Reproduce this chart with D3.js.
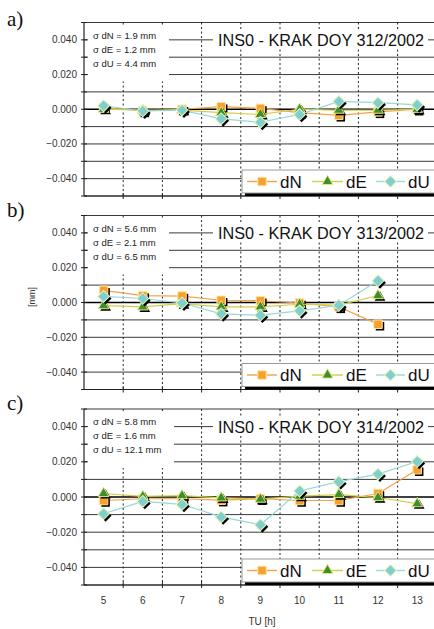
<!DOCTYPE html>
<html>
<head>
<meta charset="utf-8">
<script src="https://cdn.jsdelivr.net/npm/d3@7"></script>
<style>
  html, body { margin: 0; padding: 0; background: #fff; }
  svg { display: block; }
</style>
</head>
<body>
<svg id="chart" width="434" height="629"></svg>
<script>
// Hours (TU) along the category axis
const hours = [5, 6, 7, 8, 9, 10, 11, 12, 13];
const yTicks = [-0.04, -0.02, 0, 0.02, 0.04];
const yGrid = [-0.05, -0.04, -0.03, -0.02, -0.01, 0, 0.01, 0.02, 0.03, 0.04, 0.05];

const panelLetters = ["a)", "b)", "c)"];
const titles = ["INS0 - KRAK DOY 312/2002", "INS0 - KRAK DOY 313/2002", "INS0 - KRAK DOY 314/2002"];
const sigmaN = ["1.9", "5.6", "5.8"];
const sigmaE = ["1.2", "2.1", "1.6"];
const sigmaU = ["4.4", "6.5", "12.1"];

// Day 312
const dN312 = [0.001, -0.001, 0.000, 0.0015, 0.0005, -0.002, -0.0035, -0.0015, 0.000];
const dE312 = [0.000, -0.0005, -0.0005, -0.002, -0.003, 0.000, -0.0005, -0.0005, 0.000];
const dU312 = [0.002, -0.001, -0.0005, -0.0055, -0.0075, -0.003, 0.0045, 0.0038, 0.0025];
// Day 313 (no solution at 13 h)
const dN313 = [0.007, 0.004, 0.0037, 0.0013, 0.001, -0.0003, -0.0025, -0.0125, null];
const dE313 = [-0.0018, -0.0025, -0.0006, -0.0025, -0.0025, -0.001, -0.0015, 0.004, null];
const dU313 = [0.0035, 0.0023, -0.0003, -0.0065, -0.0073, -0.0048, -0.0016, 0.0125, null];
// Day 314
const dN314 = [-0.002, -0.001, -0.001, -0.0018, -0.001, -0.002, -0.002, 0.002, 0.0155];
const dE314 = [0.002, 0.0004, 0.0008, -0.0005, -0.0012, 0.0005, 0.0014, -0.0003, -0.0038];
const dU314 = [-0.0095, -0.0025, -0.0042, -0.0113, -0.0158, 0.0034, 0.0087, 0.013, 0.0202];

const seriesNames = ["dN", "dE", "dU"];
const panelData = [
  [dN312, dE312, dU312],
  [dN313, dE313, dU313],
  [dN314, dE314, dU314]
];

const styles = {
  dN: { line: "#f5a146", fill: "#f7a02e", stroke: "#ffe6a0", symbol: d3.symbolSquare, size: 72, rotate: 0 },
  dE: { line: "#cfcf48", fill: "#3b8f2f", stroke: "#e8e880", symbol: d3.symbolTriangle, size: 50, rotate: 0 },
  dU: { line: "#95d9d9", fill: "#7fcfcc", stroke: "#e8f4c0", symbol: d3.symbolSquare, size: 70, rotate: 45 }
};

const svg = d3.select("#chart");
const font = "'Liberation Sans', Arial, sans-serif";

const plotLeft = 84;
const bandW = 39.2;
const x = d3.scaleBand().domain(hours).range([plotLeft, plotLeft + bandW * hours.length]).paddingInner(0).paddingOuter(0);
const xc = h => x(h) + x.bandwidth() / 2;

const panels = [
  { top: 22.5, bottom: 196 },
  { top: 215.5, bottom: 389.5 },
  { top: 409, bottom: 585 }
];

function markerPath(name) {
  const s = styles[name];
  return d3.symbol(s.symbol, s.size)();
}

panels.forEach((p, i) => {
  const g = svg.append("g");
  const y = d3.scaleLinear().domain([-0.05, 0.05]).range([p.bottom, p.top]);
  const right = plotLeft + bandW * hours.length;

  // horizontal grid
  g.selectAll("line.hg").data(yGrid).join("line")
    .attr("x1", plotLeft).attr("x2", right)
    .attr("y1", d => y(d)).attr("y2", d => y(d))
    .attr("stroke", d => d === 0 ? "#000" : "#3a3a3a")
    .attr("stroke-width", d => d === 0 ? 1.4 : 1);

  // vertical dashed separators between hours
  g.selectAll("line.vg").data(hours.slice(1)).join("line")
    .attr("x1", d => x(d)).attr("x2", d => x(d))
    .attr("y1", p.top).attr("y2", p.bottom)
    .attr("stroke", "#222").attr("stroke-width", 1)
    .attr("stroke-dasharray", "2,2.5");

  // left axis with ticks every 0.010
  g.append("line").attr("x1", plotLeft).attr("x2", plotLeft)
    .attr("y1", p.top).attr("y2", p.bottom).attr("stroke", "#222").attr("stroke-width", 1.2);
  g.selectAll("line.yt").data(yGrid).join("line")
    .attr("x1", plotLeft - 3).attr("x2", plotLeft + 3)
    .attr("y1", d => y(d)).attr("y2", d => y(d))
    .attr("stroke", "#222");
  g.selectAll("text.yl").data(yTicks).join("text")
    .attr("x", plotLeft - 7).attr("y", d => y(d) + 3.5)
    .attr("text-anchor", "end")
    .attr("font-family", font).attr("font-size", 10).attr("fill", "#333")
    .text(d => d3.format(".3f")(d));

  // bottom axis ticks at category boundaries
  g.append("line").attr("x1", plotLeft).attr("x2", right)
    .attr("y1", p.bottom).attr("y2", p.bottom).attr("stroke", "#222").attr("stroke-width", 1.2);
  g.selectAll("line.xt").data(hours.slice(1)).join("line")
    .attr("x1", d => x(d)).attr("x2", d => x(d))
    .attr("y1", p.bottom - 3).attr("y2", p.bottom + 3)
    .attr("stroke", "#222");

  // sigma box
  const sg = g.append("g");
  sg.append("rect").attr("x", plotLeft + 4).attr("y", p.top + 4)
    .attr("width", i === 2 ? 86 : 81).attr("height", 55).attr("fill", "#fff");
  const sigmaLines = [
    "\u03c3 dN = " + sigmaN[i] + " mm",
    "\u03c3 dE = " + sigmaE[i] + " mm",
    "\u03c3 dU = " + sigmaU[i] + " mm"
  ];
  sg.selectAll("text").data(sigmaLines).join("text")
    .attr("x", plotLeft + 9).attr("y", (d, k) => p.top + 16 + k * 14)
    .attr("font-family", font).attr("font-size", 9.5).attr("fill", "#222")
    .text(d => d);

  // title
  const ty = y(0.04);
  g.append("rect").attr("x", 213).attr("y", ty - 9).attr("width", 215).attr("height", 18).attr("fill", "#fff");
  g.append("text").attr("x", 218).attr("y", ty + 6)
    .attr("font-family", font).attr("font-size", 17).attr("fill", "#111")
    .attr("textLength", 206).attr("lengthAdjust", "spacingAndGlyphs")
    .text(titles[i]);

  // series: line then markers, in order dN, dE, dU
  panelData[i].forEach((vals, k) => {
    const name = seriesNames[k];
    const st = styles[name];
    const pts = hours.map((h, j) => ({ h, v: vals[j] })).filter(d => d.v !== null);
    const line = d3.line().x(d => xc(d.h)).y(d => y(d.v));
    g.append("path").attr("d", line(pts)).attr("fill", "none")
      .attr("stroke", st.line).attr("stroke-width", 1.2);
    const mg = g.append("g");
    mg.selectAll("path.sh").data(pts).join("path")
      .attr("d", markerPath(name))
      .attr("transform", d => `translate(${xc(d.h) + 2},${y(d.v) + 2}) rotate(${st.rotate})`)
      .attr("fill", "#000");
    mg.selectAll("path.mk").data(pts).join("path")
      .attr("d", markerPath(name))
      .attr("transform", d => `translate(${xc(d.h)},${y(d.v)}) rotate(${st.rotate})`)
      .attr("fill", st.fill).attr("stroke", st.stroke).attr("stroke-width", 1);
  });

  // legend
  const lx = 242, ly = p.bottom - 26, lh = 23;
  g.append("rect").attr("x", lx + 3).attr("y", ly + 3).attr("width", 220).attr("height", lh).attr("fill", "#000");
  g.append("rect").attr("x", lx).attr("y", ly).attr("width", 220).attr("height", lh)
    .attr("fill", "#fff").attr("stroke", "#999").attr("stroke-width", 1);
  const items = [
    { name: "dN", x0: 247, x1: 277, tx: 280 },
    { name: "dE", x0: 312, x1: 343, tx: 346 },
    { name: "dU", x0: 376, x1: 405, tx: 408 }
  ];
  const cy = ly + lh / 2;
  items.forEach(it => {
    const st = styles[it.name];
    g.append("line").attr("x1", it.x0).attr("x2", it.x1).attr("y1", cy).attr("y2", cy)
      .attr("stroke", st.line).attr("stroke-width", 1.4);
    g.append("path").attr("d", markerPath(it.name))
      .attr("transform", `translate(${(it.x0 + it.x1) / 2},${cy}) rotate(${st.rotate})`)
      .attr("fill", st.fill).attr("stroke", st.stroke);
    g.append("text").attr("x", it.tx).attr("y", cy + 6)
      .attr("font-family", font).attr("font-size", 17).attr("fill", "#111")
      .text(it.name);
  });

  // panel letter
  svg.append("text").attr("x", 7).attr("y", [26, 217, 410][i])
    .attr("font-family", "'Liberation Serif', 'Times New Roman', serif")
    .attr("font-size", 21).attr("fill", "#111")
    .text(panelLetters[i]);
});

// x labels under the last panel
svg.selectAll("text.xl").data(hours).join("text")
  .attr("x", d => xc(d)).attr("y", 604)
  .attr("text-anchor", "middle")
  .attr("font-family", font).attr("font-size", 10).attr("fill", "#333")
  .text(d => d);

svg.append("text").attr("x", 262).attr("y", 625).attr("text-anchor", "middle")
  .attr("font-family", font).attr("font-size", 10).attr("fill", "#333")
  .text("TU [h]");

svg.append("text")
  .attr("transform", "translate(35,297) rotate(-90)")
  .attr("text-anchor", "middle")
  .attr("font-family", font).attr("font-size", 9).attr("fill", "#333")
  .text("[mm]");
</script>
</body>
</html>
